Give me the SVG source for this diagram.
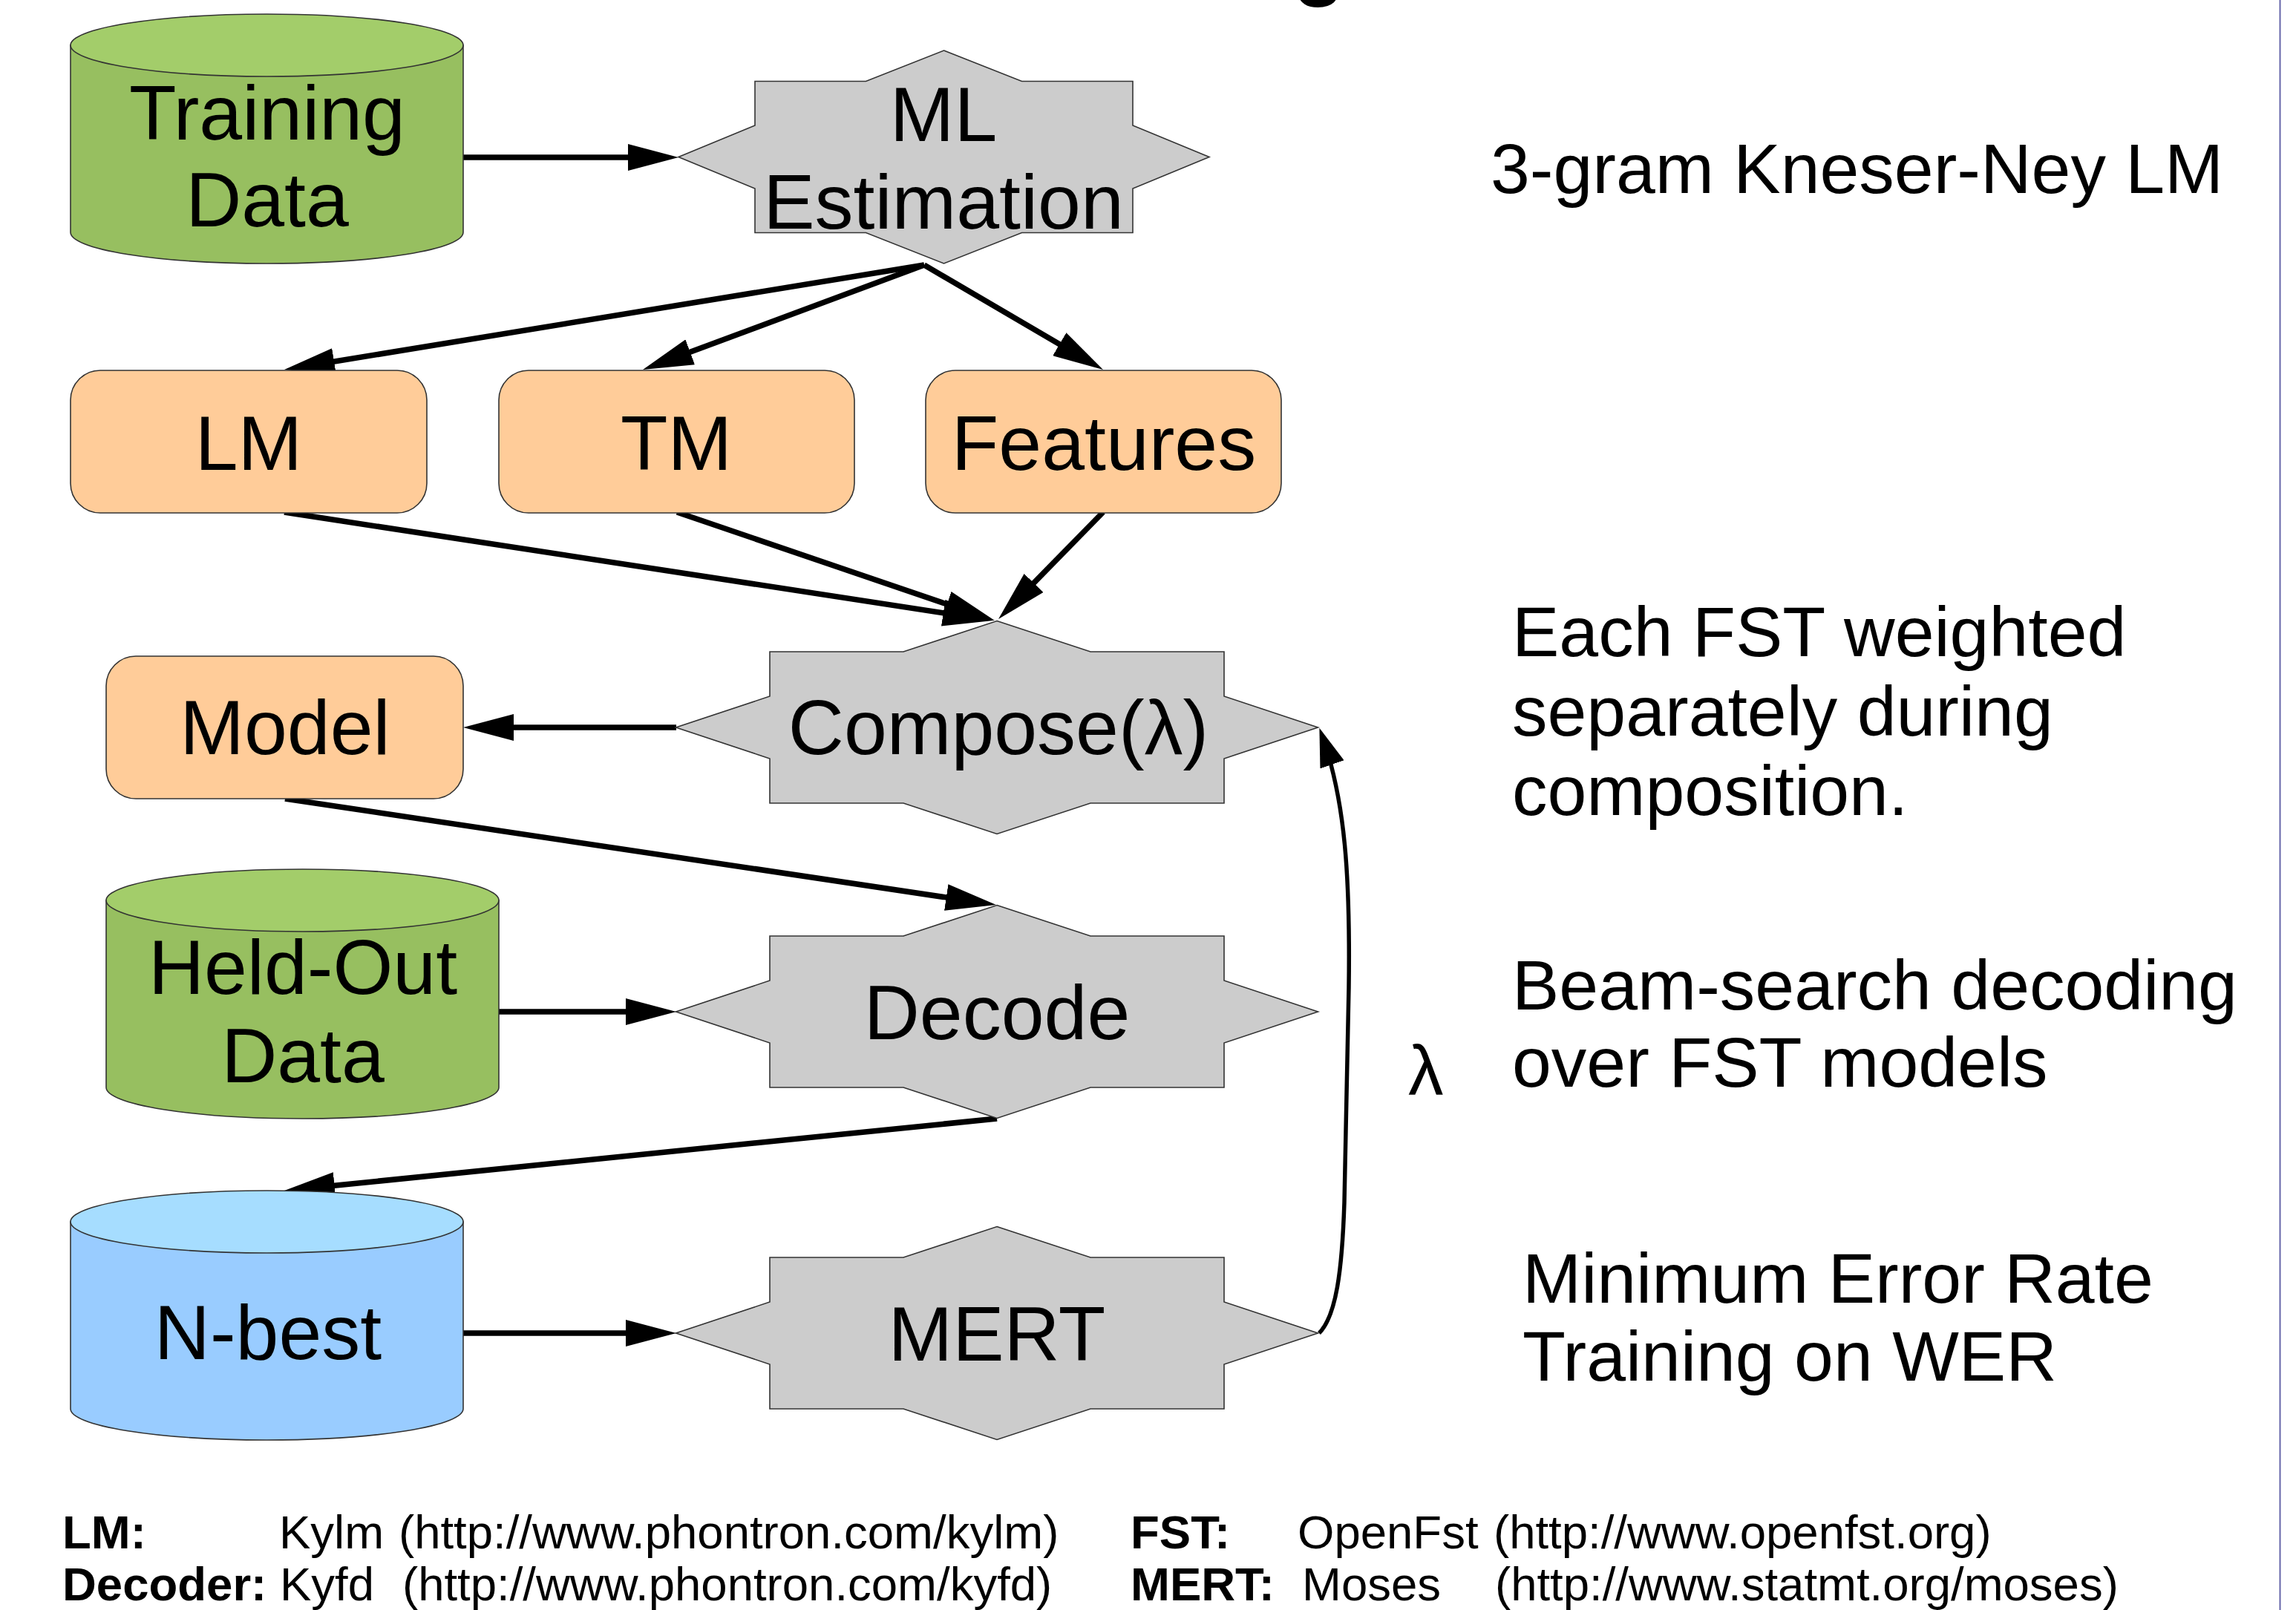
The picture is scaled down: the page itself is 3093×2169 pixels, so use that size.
<svg xmlns="http://www.w3.org/2000/svg" width="3093" height="2169" viewBox="0 0 3093 2169">
<style>
  .lbl { font-family: "Liberation Sans", Arial, sans-serif; font-size: 104px; fill: #000; text-anchor: middle; }
  .note { font-family: "Liberation Sans", Arial, sans-serif; font-size: 95px; fill: #000; }
  .foot { font-family: "Liberation Sans", Arial, sans-serif; font-size: 63.5px; fill: #000; }
  .b { font-weight: bold; }
  .shape { stroke: #333; stroke-width: 1.6; }
  .star { fill: #cccccc; stroke: #333; stroke-width: 1.6; }
  .box { fill: #ffcc99; stroke: #333; stroke-width: 1.6; }
  .gbody { fill: #97bf60; }
  .gtop { fill: #a3cd6a; }
  .bbody { fill: #99ccff; }
  .btop { fill: #a6ddff; }
  .conn { fill: none; stroke: #000; stroke-width: 7.5; }
  .curve { fill: none; stroke: #000; stroke-width: 5.5; }
</style>
<defs>
  <marker id="ah" markerUnits="userSpaceOnUse" viewBox="0 0 68 36" markerWidth="68" markerHeight="36" refX="46" refY="18" orient="auto">
    <path d="M0,0 L68,18 L0,36 z" fill="#000"/>
  </marker>
  <marker id="ah2" markerUnits="userSpaceOnUse" viewBox="0 0 52 34" markerWidth="52" markerHeight="34" refX="38" refY="17" orient="auto">
    <path d="M0,0 L52,17 L0,34 z" fill="#000"/>
  </marker>
  <polygon id="star8" points="0,-143.5 126,-102 306,-102 306,-42 432.5,0 306,42 306,102 126,102 0,143.5 -126,102 -306,102 -306,42 -432.5,0 -306,-42 -306,-102 -126,-102"/>
</defs>
<rect width="3093" height="2169" fill="#fff"/>
<line x1="3071.5" y1="0" x2="3071.5" y2="2169" stroke="#6666aa" stroke-width="2"/>
<text class="b" x="1777" y="-14" font-family="Liberation Sans, Arial, sans-serif" font-size="115" text-anchor="middle">g</text>

<g id="connectors">
  <line class="conn" x1="624" y1="212" x2="892" y2="212" marker-end="url(#ah)"/>
  <line class="conn" x1="1245" y1="357" x2="404.7" y2="494.5" marker-end="url(#ah)"/>
  <line class="conn" x1="1245" y1="357" x2="886.6" y2="490.3" marker-end="url(#ah)"/>
  <line class="conn" x1="1245" y1="357" x2="1467" y2="486.9" marker-end="url(#ah)"/>
  <line class="conn" x1="383" y1="690" x2="1316.2" y2="832.7" marker-end="url(#ah)"/>
  <line class="conn" x1="912" y1="690" x2="1319.2" y2="828.9" marker-end="url(#ah)"/>
  <line class="conn" x1="1486" y1="690" x2="1360.4" y2="818.3" marker-end="url(#ah)"/>
  <line class="conn" x1="911" y1="980" x2="646" y2="980" marker-end="url(#ah)"/>
  <line class="conn" x1="384" y1="1076" x2="1320.2" y2="1215.8" marker-end="url(#ah)"/>
  <line class="conn" x1="672" y1="1363" x2="889" y2="1363" marker-end="url(#ah)"/>
  <line class="conn" x1="1343" y1="1507" x2="404.9" y2="1601.8" marker-end="url(#ah)"/>
  <line class="conn" x1="624" y1="1796" x2="889" y2="1796" marker-end="url(#ah)"/>
  <path class="curve" d="M1777,1796 C1800,1773 1808,1712 1811,1620 L1817,1330 C1819,1180 1812,1080 1782,994" marker-end="url(#ah2)"/>
</g>

<g id="training-data">
  <path class="gbody shape" d="M95,61 L95,313 A264.5,42 0 0 0 624,313 L624,61 Z"/>
  <ellipse class="gtop shape" cx="359.5" cy="61" rx="264.5" ry="42"/>
  <text class="lbl" x="360" y="188">Training</text>
  <text class="lbl" x="360" y="305">Data</text>
</g>

<g id="ml-estimation">
  <polygon class="star" points="1271.5,68 1376.5,109.5 1526,109.5 1526,169 1629,211.5 1526,254 1526,313.5 1376.5,313.5 1271.5,355 1166.5,313.5 1017,313.5 1017,254 914,211.5 1017,169 1017,109.5 1166.5,109.5"/>
  <text class="lbl" x="1271" y="190">ML</text>
  <text class="lbl" x="1271" y="308">Estimation</text>
</g>

<g id="lm">
  <rect class="box" x="95" y="499" width="480" height="192" rx="40" ry="40"/>
  <text class="lbl" x="335" y="633">LM</text>
</g>
<g id="tm">
  <rect class="box" x="672" y="499" width="479" height="192" rx="40" ry="40"/>
  <text class="lbl" x="911" y="633">TM</text>
</g>
<g id="features">
  <rect class="box" x="1247" y="499" width="479" height="192" rx="40" ry="40"/>
  <text class="lbl" x="1487" y="633">Features</text>
</g>

<g id="compose">
  <use href="#star8" class="star" transform="translate(1343,980)"/>
  <text class="lbl" x="1345" y="1016">Compose(λ)</text>
</g>

<g id="model">
  <rect class="box" x="143" y="884" width="481" height="192" rx="40" ry="40"/>
  <text class="lbl" x="384" y="1016">Model</text>
</g>

<g id="held-out-data">
  <path class="gbody shape" d="M143,1213 L143,1465 A264.5,42 0 0 0 672,1465 L672,1213 Z"/>
  <ellipse class="gtop shape" cx="407.5" cy="1213" rx="264.5" ry="42"/>
  <text class="lbl" x="408" y="1339">Held-Out</text>
  <text class="lbl" x="408" y="1458">Data</text>
</g>

<g id="decode">
  <use href="#star8" class="star" transform="translate(1343,1363)"/>
  <text class="lbl" x="1343" y="1400">Decode</text>
</g>

<g id="n-best">
  <path class="bbody shape" d="M95,1646 L95,1898 A264.5,42 0 0 0 624,1898 L624,1646 Z"/>
  <ellipse class="btop shape" cx="359.5" cy="1646" rx="264.5" ry="42"/>
  <text class="lbl" x="361" y="1831">N-best</text>
</g>

<g id="mert">
  <use href="#star8" class="star" transform="translate(1343,1796)"/>
  <text class="lbl" x="1343" y="1833">MERT</text>
</g>

<g id="notes">
  <text class="note" x="2008" y="260">3-gram Kneser-Ney LM</text>
  <text class="note" x="2037" y="884">Each FST weighted</text>
  <text class="note" x="2037" y="991">separately during</text>
  <text class="note" x="2037" y="1098">composition.</text>
  <text class="note" x="2037" y="1360">Beam-search decoding</text>
  <text class="note" x="2037" y="1464">over FST models</text>
  <text class="note" x="2051" y="1755">Minimum Error Rate</text>
  <text class="note" x="2051" y="1860">Training on WER</text>
  <text class="note" x="1897" y="1475" font-size="94">λ</text>
</g>

<g id="footer">
  <text class="foot b" x="84" y="2086">LM:</text>
  <text class="foot" x="376" y="2086">Kylm</text>
  <text class="foot" x="537" y="2086">(http://www.phontron.com/kylm)</text>
  <text class="foot b" x="1523" y="2086">FST:</text>
  <text class="foot" x="1748" y="2086">OpenFst</text>
  <text class="foot" x="2012" y="2086">(http://www.openfst.org)</text>
  <text class="foot b" x="84" y="2156">Decoder:</text>
  <text class="foot" x="377" y="2156">Kyfd</text>
  <text class="foot" x="542" y="2156">(http://www.phontron.com/kyfd)</text>
  <text class="foot b" x="1523" y="2156">MERT:</text>
  <text class="foot" x="1754" y="2156">Moses</text>
  <text class="foot" x="2014" y="2156">(http://www.statmt.org/moses)</text>
</g>
</svg>
